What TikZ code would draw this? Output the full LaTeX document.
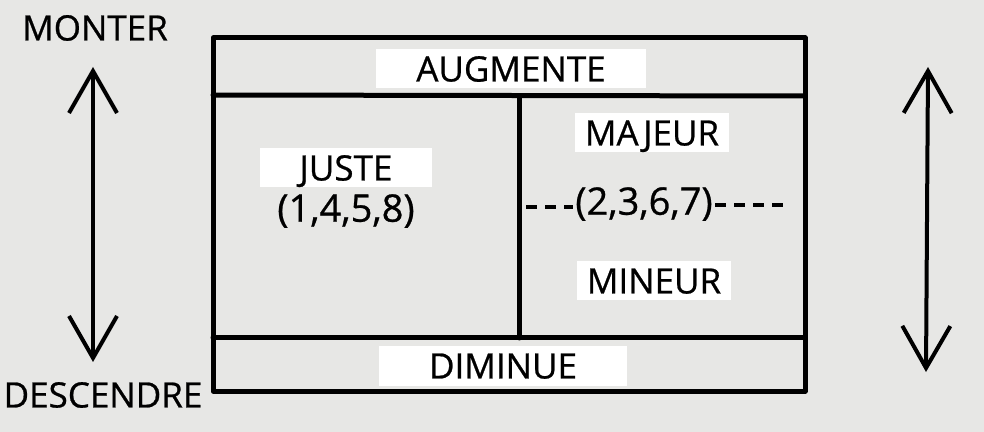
\documentclass[tikz,border=0pt]{standalone}
\usepackage{fontspec}
\setmainfont{Open Sans}
\newfontfamily\labelfont{Open Sans}[FakeBold=0.7]
\usepackage{xcolor}
\usetikzlibrary{arrows.meta}

\definecolor{paper}{RGB}{231,231,229}

\tikzset{
    patch/.style={fill=white, inner xsep=20pt, inner ysep=3.5pt, text height=12.5pt, text depth=0pt,
        font=\labelfont\fontsize{17.5}{17.5}\selectfont},
    hand/.style={inner sep=1pt, font=\labelfont\fontsize{19}{19}\selectfont},
    frame/.style={line width=2.5pt, line cap=round, line join=round},
    updown/.style={line width=2pt, {Straight Barb[length=21pt,width=24pt]}-{Straight Barb[length=21pt,width=24pt]}},
}

\begin{document}
\begin{tikzpicture}[x=0.5pt, y=-0.5pt]

    \fill[paper] (0,0) rectangle (984,432);
    \useasboundingbox (0,0) rectangle (984,432);

    % the frame
    \coordinate (tl) at (213,38);
    \coordinate (br) at (805,391);
    \draw[frame] (tl) rectangle (br);
    \draw[frame] (213,95) -- (805,96);
    \draw[frame] (213,338) -- (805,338);
    \draw[frame] (519,96) -- (519,338);

    % labels
    \node[patch] (augmente) at (511,69) {AUGMENTE};
    \node[patch] (juste) at (346,168) {JUSTE};
    \node[patch, inner xsep=5pt, xshift=-4pt] (majeur) at (660,133) {MAJEUR};
    \node[patch, inner xsep=5pt, xshift=-3pt] (mineur) at (660,281) {MINEUR};
    \node[patch, inner xsep=25pt] (diminue) at (503,366) {DIMINUE};
    \node[patch, fill=none] (monter) at (95,28) {MONTER};
    \node[patch, fill=none] (descendre) at (103,395) {DESCENDRE};

    \node[hand] (justenum) at (346,211) {(1,4,5,8)};
    \node[hand] (impnum) at (644,204) {(2,3,6,7)};

    % dashes either side
    \coordinate (dl) at (526,207);
    \coordinate (dr) at (786,205);
    \draw[line width=1.6pt, dash pattern=on 5.5pt off 4pt] (dl) -- (impnum.west |- dl);
    \draw[line width=1.6pt, dash pattern=on 5.5pt off 4pt] (impnum.east |- dr) -- (dr);

    % arrows
    \coordinate (lup) at (93,67);
    \coordinate (ldown) at (93,362);
    \coordinate (rup) at (928,67);
    \coordinate (rdown) at (926,372);
    \draw[updown] (ldown) -- (lup);
    \draw[updown] (rdown) -- (rup);

\end{tikzpicture}
\end{document}
